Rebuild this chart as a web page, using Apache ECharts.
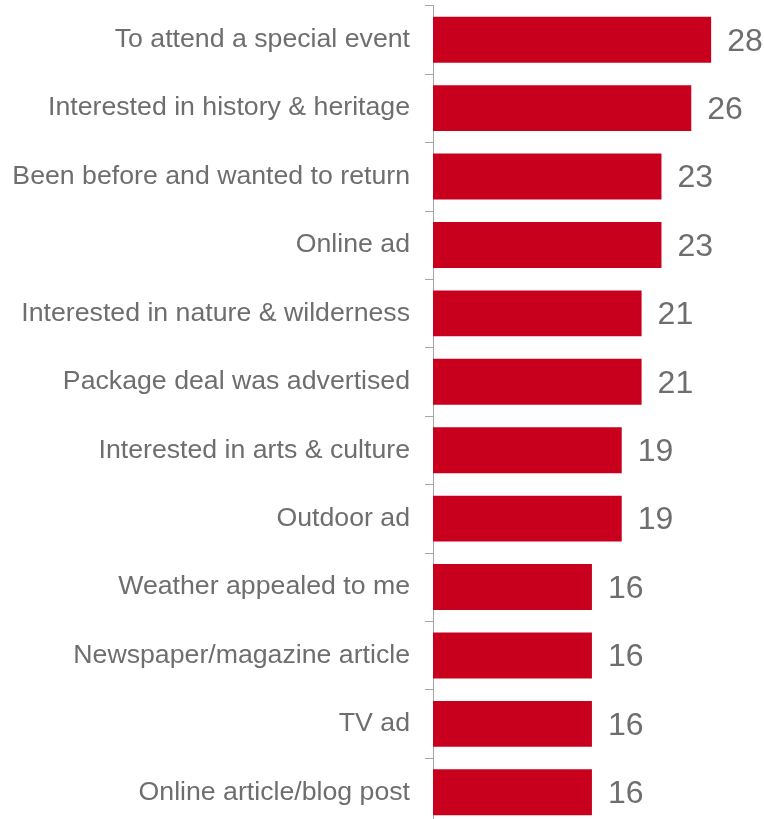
<!DOCTYPE html>
<html>
<head>
<meta charset="utf-8">
<script src="https://cdn.jsdelivr.net/npm/echarts@6/dist/echarts.min.js"></script>
<style>
  html, body { margin: 0; padding: 0; background: #fff; }
  #chart { width: 764px; height: 819px; }
</style>
</head>
<body>
<div id="chart"></div>
<script>
// Reasons for choosing the destination (% of respondents), top to bottom
const categories = [
  'To attend a special event',
  'Interested in history & heritage',
  'Been before and wanted to return',
  'Online ad',
  'Interested in nature & wilderness',
  'Package deal was advertised',
  'Interested in arts & culture',
  'Outdoor ad',
  'Weather appealed to me',
  'Newspaper/magazine article',
  'TV ad',
  'Online article/blog post'
];
const values = [28, 26, 23, 23, 21, 21, 19, 19, 16, 16, 16, 16];

const textColor = '#6e6e6e';
const fontFamily = 'Liberation Sans, Arial, sans-serif';

const chart = echarts.init(document.getElementById('chart'), null, { renderer: 'canvas' });
chart.setOption({
  animation: false,
  grid: {
    left: 433, top: 5.5, width: 298, height: 821,
    containLabel: false,
    outerBoundsMode: 'none'
  },
  xAxis: {
    type: 'value', min: 0, max: 30,
    show: false
  },
  yAxis: {
    type: 'category',
    inverse: true,
    data: categories,
    axisLine: { show: true, lineStyle: { color: '#a6a6a6', width: 1 } },
    axisTick: { show: true, length: 8, lineStyle: { color: '#a6a6a6' } },
    axisLabel: {
      margin: 23,
      color: textColor,
      fontFamily: fontFamily,
      fontSize: 26.7
    },
    splitLine: { show: false }
  },
  series: [{
    type: 'bar',
    data: values,
    barCategoryGap: '33%',
    itemStyle: { color: '#c8001e' },
    label: {
      show: true,
      position: 'right',
      distance: 16,
      offset: [0, 2],
      color: textColor,
      fontFamily: fontFamily,
      fontSize: 32
    }
  }]
});
</script>
</body>
</html>
